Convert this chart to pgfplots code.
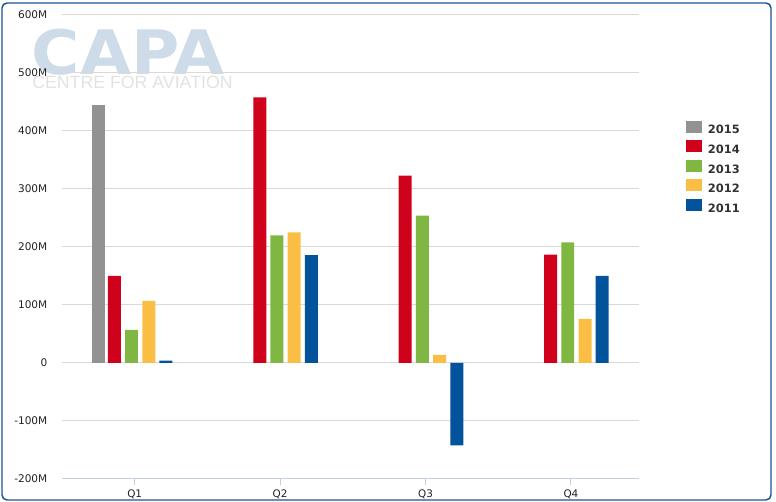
\documentclass[border=0pt]{standalone}
\usepackage{pgfplots}
\pgfplotsset{compat=1.18}
\usepackage{fontspec}
\setmainfont{DejaVu Sans}
\newfontfamily\capafont{Liberation Sans}
\definecolor{c15}{HTML}{929292}
\definecolor{c14}{HTML}{D0021B}
\definecolor{c13}{HTML}{7FB742}
\definecolor{c12}{HTML}{FBBE45}
\definecolor{c11}{HTML}{03529C}
\definecolor{framec}{HTML}{1B5395}
\definecolor{gridc}{HTML}{D9D9D9}
\definecolor{tickc}{HTML}{C2CFDD}
\definecolor{capac}{HTML}{CEDCEA}
\definecolor{centrec}{HTML}{E2E2E2}
\definecolor{legtext}{HTML}{333333}
\definecolor{labtext}{HTML}{222222}
\begin{document}
\begin{tikzpicture}
\useasboundingbox (0pt,0pt) rectangle (582pt,376.5pt);
% frame
\draw[framec, line width=1.1pt, rounded corners=3.75pt] (1.5pt,1.5pt) rectangle (578.25pt,374.25pt);
% watermark
\node[anchor=base west, inner sep=0pt, text=capac, font=\bfseries\fontsize{46}{46}\selectfont, xscale=1.075] at (23.5pt,320.25pt) {CAPA};
\node[anchor=base west, inner sep=0pt, text=centrec, font=\capafont\fontsize{13.3}{13.3}\selectfont] at (24pt,310pt) {CENTRE FOR AVIATION};
\begin{axis}[
  at={(46.5pt,17.25pt)}, anchor=south west,
  scale only axis, width=432.75pt, height=348pt,
  xmin=-0.5, xmax=3.468, ymin=-200, ymax=600,
  xtick={0,1,2,3}, xticklabels={Q1,Q2,Q3,Q4},
  ytick={-200,-100,0,100,200,300,400,500,600},
  yticklabels={-200M,-100M,0,100M,200M,300M,400M,500M,600M},
  axis lines*=left,
  x axis line style={draw=tickc, line width=0.75pt},
  y axis line style={draw=none},
  ymajorgrids, grid style={draw=gridc, line width=0.75pt},
  xtick style={draw=tickc, line width=0.75pt},
  ytick style={draw=none},
  tick align=outside, major tick length=4.5pt,
  xtick pos=bottom, ytick pos=left,
  xticklabel style={font=\fontsize{7.8}{9}\selectfont, text=labtext},
  yticklabel style={font=\fontsize{7.9}{9}\selectfont, text=labtext, xshift=-3pt},
  ybar, bar width=0.0893,
  every axis plot post/.append style={draw=none, legend image code/.code={\fill[##1,draw=none] (0pt,-1.4pt) rectangle (12pt,7.6pt);}},
  legend style={at={(1.0812,0.7726)}, anchor=north west, draw=none, fill=none,
    inner sep=0pt, outer sep=0pt, row sep=3.2pt,
    font=\bfseries\fontsize{8.6}{10}\selectfont, text=legtext,
    nodes={inner sep=0pt},
    /tikz/every odd column/.style={column sep=4.5pt}},
  legend cell align=left,
  clip=false,
]
\addplot[fill=c15, bar shift=-0.25] coordinates {(0,445)};
\addplot[fill=c14, bar shift=-0.14] coordinates {(0,150) (1,458) (2,323) (3,187)};
\addplot[fill=c13, bar shift=-0.022] coordinates {(0,57) (1,220) (2,254) (3,208)};
\addplot[fill=c12, bar shift=0.097] coordinates {(0,107) (1,225) (2,14) (3,76)};
\addplot[fill=c11, bar shift=0.215] coordinates {(0,4) (1,186) (2,-142) (3,150)};
\legend{2015,2014,2013,2012,2011}
\end{axis}
\end{tikzpicture}
\end{document}
